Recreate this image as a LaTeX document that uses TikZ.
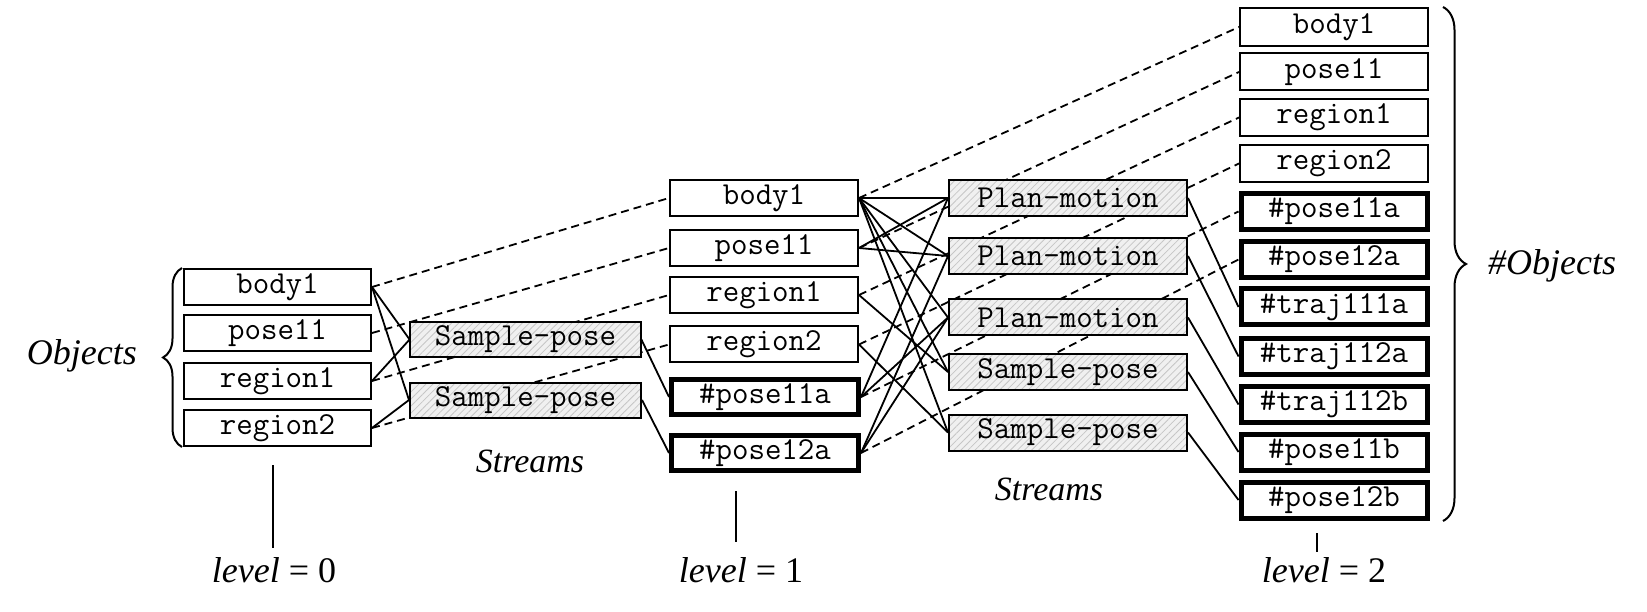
\documentclass[tikz,border=0pt]{standalone}
\usepackage{fontspec}
\setmainfont{Liberation Serif}
\usetikzlibrary{patterns.meta,decorations.pathreplacing,backgrounds}
\begin{document}
\begin{tikzpicture}[x=1pt,y=-1pt,
  mono/.style={font=\fontsize{32}{34}\selectfont\ttfamily},
  obj/.style={draw, line width=2pt, fill=white, minimum width=188pt, minimum height=36pt, inner sep=0pt, mono},
  lobj/.style={obj, minimum width=187pt},
  nobj/.style={obj, line width=5pt, minimum width=187pt, minimum height=35pt},
  strm/.style={draw, line width=2pt, preaction={fill=gray!12},
     pattern={Lines[angle=45,distance=5pt,line width=0.8pt]}, pattern color=gray!45,
     minimum height=35pt, inner sep=0pt, mono},
  dep/.style={line width=1.8pt},
  carry/.style={line width=1.8pt, dash pattern=on 8pt off 5pt},
  lbl/.style={font=\fontsize{36}{40}\selectfont\itshape, inner sep=0pt},
  slbl/.style={font=\fontsize{34}{38}\selectfont\itshape, inner sep=0pt},
  lvl/.style={font=\fontsize{36}{40}\selectfont, inner sep=0pt},
  tick/.style={line width=1.5pt},
  brc/.style={decorate, line width=2pt},
]
\useasboundingbox (0,0) rectangle (1647,612);

% level 0 objects
\node[lobj] (a1) at (277.5,287) {body1};
\node[lobj] (a2) at (277.5,333) {pose11};
\node[lobj] (a3) at (277.5,381) {region1};
\node[lobj] (a4) at (277.5,428) {region2};

% level 1 streams
\node[strm, minimum width=231pt] (s1) at (525.5,339.5) {Sample-pose};
\node[strm, minimum width=231pt] (s2) at (525.5,400) {Sample-pose};

% level 1 objects
\node[obj] (b1) at (764,198) {body1};
\node[obj] (b2) at (764,248) {pose11};
\node[obj] (b3) at (764,295) {region1};
\node[obj] (b4) at (764,344.5) {region2};
\node[nobj] (b5) at (765,397) {\#pose11a};
\node[nobj] (b6) at (765,453) {\#pose12a};

% level 2 streams
\node[strm, minimum width=238pt, minimum height=36pt] (t1) at (1068,198) {Plan-motion};
\node[strm, minimum width=238pt, minimum height=36pt] (t2) at (1068,256) {Plan-motion};
\node[strm, minimum width=238pt, minimum height=36pt] (t3) at (1068,317.5) {Plan-motion};
\node[strm, minimum width=238pt, minimum height=36pt] (t4) at (1068,372) {Sample-pose};
\node[strm, minimum width=238pt, minimum height=36pt] (t5) at (1068,432.5) {Sample-pose};

% level 2 objects
\node[obj, minimum height=38pt] (c1) at (1334,27) {body1};
\node[obj, minimum height=37pt] (c2) at (1334,72) {pose11};
\node[obj, minimum height=37pt] (c3) at (1334,117.5) {region1};
\node[obj, minimum height=37pt] (c4) at (1334,163.5) {region2};
\node[nobj, minimum width=186pt, minimum height=36pt] (c5) at (1334,211.5) {\#pose11a};
\node[nobj, minimum width=186pt, minimum height=36pt] (c6) at (1334,259.5) {\#pose12a};
\node[nobj, minimum width=186pt, minimum height=36pt] (c7) at (1334,307) {\#traj111a};
\node[nobj, minimum width=186pt, minimum height=36pt] (c8) at (1334,356.5) {\#traj112a};
\node[nobj, minimum width=186pt, minimum height=36pt] (c9) at (1334,404.5) {\#traj112b};
\node[nobj, minimum width=186pt, minimum height=36pt] (c10) at (1334,452) {\#pose11b};
\node[nobj, minimum width=186pt, minimum height=36pt] (c11) at (1334,500) {\#pose12b};

\begin{scope}[on background layer]
  % carried objects (dashed)
  \draw[carry] (a1.east) -- (b1.west);
  \draw[carry] (a2.east) -- (b2.west);
  \draw[carry] (a3.east) -- (b3.west);
  \draw[carry] (a4.east) -- (b4.west);
  \draw[carry] (b1.east) -- (c1.west);
  \draw[carry] (b2.east) -- (c2.west);
  \draw[carry] (b3.east) -- (c3.west);
  \draw[carry] (b4.east) -- (c4.west);
  \draw[carry] (b5.east) -- (c5.west);
  \draw[carry] (b6.east) -- (c6.west);
  % stream inputs / outputs, level 0 -> 1
  \draw[dep] (a1.east) -- (s1.west);
  \draw[dep] (a1.east) -- (s2.west);
  \draw[dep] (a3.east) -- (s1.west);
  \draw[dep] (a4.east) -- (s2.west);
  \draw[dep] (s1.east) -- (b5.west);
  \draw[dep] (s2.east) -- (b6.west);
  % level 1 -> 2
  \draw[dep] (b1.east) -- (t1.west);
  \draw[dep] (b1.east) -- (t2.west);
  \draw[dep] (b1.east) -- (t3.west);
  \draw[dep] (b1.east) -- (t4.west);
  \draw[dep] (b1.east) -- (t5.west);
  \draw[dep] (b2.east) -- (t1.west);
  \draw[dep] (b2.east) -- (t2.west);
  \draw[dep] (b3.east) -- (t4.west);
  \draw[dep] (b4.east) -- (t5.west);
  \draw[dep] (b5.east) -- (t1.west);
  \draw[dep] (b5.east) -- (t3.west);
  \draw[dep] (b6.east) -- (t2.west);
  \draw[dep] (b6.east) -- (t3.west);
  \draw[dep] (t1.east) -- (c7.west);
  \draw[dep] (t2.east) -- (c8.west);
  \draw[dep] (t3.east) -- (c9.west);
  \draw[dep] (t4.east) -- (c10.west);
  \draw[dep] (t5.east) -- (c11.west);
\end{scope}

% braces and labels
\coordinate (lbB) at (182,447);
\coordinate (lbT) at (182,268);
\draw[brc, decoration={brace, amplitude=19pt}] (lbB) -- (lbT);
\node[lbl, anchor=base east] (objl) at (137,365) {Objects};

\coordinate (rbT) at (1443,7);
\coordinate (rbB) at (1443,521);
\draw[brc, decoration={brace, amplitude=23pt}] (rbT) -- (rbB);
\node[lbl, anchor=base west] (objr) at (1488,275) {\#Objects};

\node[slbl, anchor=base] (st1) at (530,472) {Streams};
\node[slbl, anchor=base] (st2) at (1049,500) {Streams};

% levels
\coordinate (l0t) at (273,465);
\coordinate (l0b) at (273,548);
\coordinate (l1t) at (736,491);
\coordinate (l1b) at (736,542);
\coordinate (l2t) at (1317,533);
\coordinate (l2b) at (1317,552);
\draw[tick] (l0t) -- (l0b);
\draw[tick] (l1t) -- (l1b);
\draw[tick] (l2t) -- (l2b);
\node[lvl, anchor=base] (lv0) at (274,582) {\textit{level} = 0};
\node[lvl, anchor=base] (lv1) at (741,582) {\textit{level} = 1};
\node[lvl, anchor=base] (lv2) at (1324,582) {\textit{level} = 2};
\end{tikzpicture}
\end{document}
